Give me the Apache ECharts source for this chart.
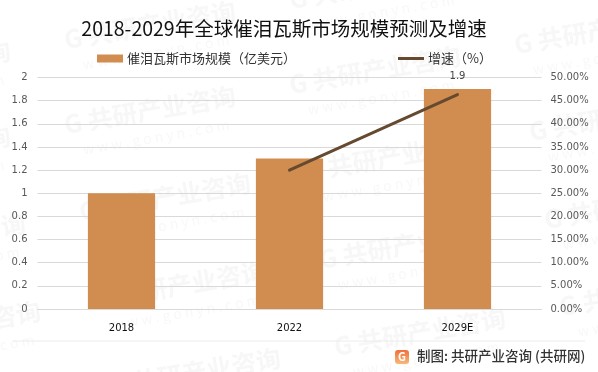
<!DOCTYPE html>
<html><head><meta charset="utf-8">
<style>html,body{margin:0;padding:0;background:#fff}#c{width:598px;height:372px}</style>
<script src="https://cdn.jsdelivr.net/npm/echarts@6/dist/echarts.min.js"></script></head>
<body><div id="c"></div>
<script>
const titleText = '2018-2029年全球催泪瓦斯市场规模预测及增速';
const categories = ['2018','2022','2029E'];
const marketSize = [1.0,1.3,1.9];
const growthRate = [null,30,46.3];
const barName = '催泪瓦斯市场规模（亿美元）';
const lineName = '增速（%）';
const sourceText = '制图: 共研产业咨询 (共研网)';
const marks = [[-75,65],[150,25],[375,-15],[600,-55],[-75,150],[150,110],[375,70],[600,30],[-60,237],[165,197],[390,157],[615,117],[-45,325],[180,285],[405,245],[630,205],[-30,412],[195,372],[420,332],[645,292]];
const font = '"Noto Sans CJK SC","Noto Sans",sans-serif';
const wm = [];
marks.forEach(m=>{
  wm.push({type:'text',x:m[0],y:m[1],rotation:0.17,silent:true,z:0,style:{text:'G 共研产业咨询',font:'bold 25px '+font,fill:'#f7f7f7',textAlign:'center',textVerticalAlign:'middle'}});
  wm.push({type:'text',x:m[0]+6,y:m[1]+27,rotation:0.17,silent:true,z:0,style:{text:'w w w . g o n y n . c o m',font:'14px '+font,fill:'#f8f8f8',textAlign:'center',textVerticalAlign:'middle'}});
});
const chart = echarts.init(document.getElementById('c'),null,{renderer:'canvas'});
chart.setOption({
  animation:false,backgroundColor:'#fff',
  title:{text:titleText,left:279,top:14,textAlign:'center',textStyle:{fontFamily:font,fontSize:19.5,fontWeight:'normal',color:'#111'}},
  legend:[
    {data:[{name:barName,icon:'rect'}],left:92,top:47,itemWidth:26,itemHeight:8,itemGap:4,textStyle:{fontFamily:font,fontSize:13,color:'#333',padding:[0,0,0,-1]}},
    {data:[{name:lineName,icon:'rect',itemStyle:{color:'#654a30'}}],left:393,top:47,itemWidth:26,itemHeight:3,itemGap:3,textStyle:{fontFamily:font,fontSize:13,color:'#333',padding:[0,0,0,-1]}}
  ],
  grid:{left:37.5,right:56.5,top:77.5,height:231.5},
  xAxis:{type:'category',data:categories,axisTick:{show:false},axisLine:{lineStyle:{color:'#d9d9d9'}},axisLabel:{margin:14,fontFamily:'"DejaVu Sans",sans-serif',fontSize:10,color:'#111'}},
  yAxis:[
    {type:'value',min:0,max:2,interval:0.2,axisLine:{show:false},axisTick:{show:false},splitLine:{lineStyle:{color:'#d9d9d9'}},axisLabel:{margin:10,fontFamily:'"DejaVu Sans",sans-serif',fontSize:10,color:'#595959',formatter:v=>String(Math.round(v*10)/10)}},
    {type:'value',min:0,max:50,interval:5,axisLine:{show:false},axisTick:{show:false},splitLine:{show:false},axisLabel:{margin:9,fontFamily:'"DejaVu Sans",sans-serif',fontSize:10,color:'#595959',formatter:v=>v.toFixed(2)+'%'}}
  ],
  series:[
    {name:barName,type:'bar',data:marketSize,barWidth:'40%',itemStyle:{color:'#d18c4f'},
     label:{show:true,position:'top',distance:8,fontFamily:'"DejaVu Sans",sans-serif',fontSize:10,color:'#444',formatter:p=>p.dataIndex===2?p.value:''}},
    {name:lineName,type:'line',yAxisIndex:1,data:growthRate,symbol:'none',connectNulls:false,lineStyle:{color:'#654a30',width:3,cap:'round'},itemStyle:{color:'#654a30'}}
  ],
  graphic:wm.concat([
    {type:'line',silent:true,z:1,shape:{x1:13,y1:341,x2:585,y2:341},style:{stroke:'#ececec',lineWidth:1}},
    {type:'rect',silent:true,z:2,shape:{x:395,y:350,width:14,height:14,r:3},style:{fill:new echarts.graphic.LinearGradient(0,0,0,1,[{offset:0,color:'#f0703a'},{offset:1,color:'#f8b878'}])}},
    {type:'text',silent:true,z:3,x:402,y:357,style:{text:'G',font:'bold 11px '+font,fill:'#fff',textAlign:'center',textVerticalAlign:'middle'}},
    {type:'text',silent:true,z:3,x:417,y:356,style:{text:sourceText,font:'500 13.5px '+font,fill:'#333',textVerticalAlign:'middle'}}
  ])
});
</script></body></html>
